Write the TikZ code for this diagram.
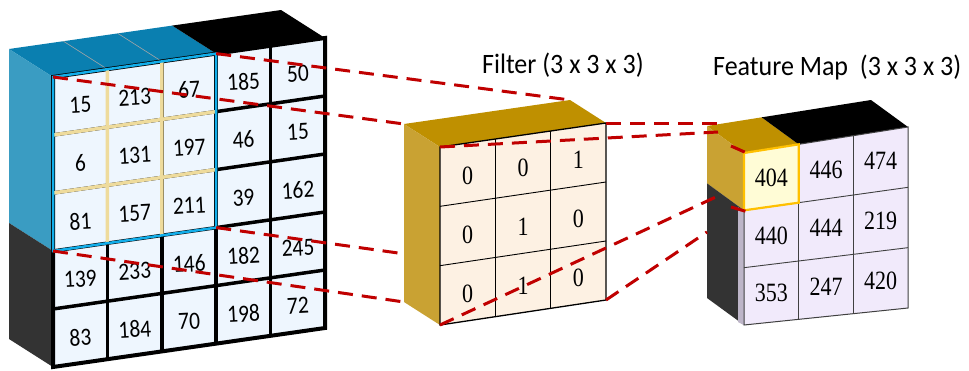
\documentclass[tikz,border=0pt]{standalone}
\usepackage{fontspec}
\setmainfont{Liberation Serif}
\newfontfamily\labelfont{Carlito}
\usetikzlibrary{calc}
\definecolor{inblue}{HTML}{0A7FB0}
\definecolor{inside}{HTML}{3A9CC2}
\definecolor{darkside}{HTML}{333333}
\definecolor{incell}{HTML}{EEF6FE}
\definecolor{hiline}{HTML}{EEDB9C}
\definecolor{hiborder}{HTML}{12AEEA}
\definecolor{goldtop}{HTML}{BF9000}
\definecolor{goldside}{HTML}{C9A233}
\definecolor{filtcell}{HTML}{FDF1E3}
\definecolor{fmcell}{HTML}{F1EAFB}
\definecolor{fmstrip}{HTML}{BDB5C8}
\definecolor{fmgrid}{HTML}{404040}
\definecolor{fmhi}{HTML}{FFFCD6}
\definecolor{fmhiborder}{HTML}{FFC000}
\definecolor{linkred}{HTML}{C00000}
% digits are set a little taller than wide
\newcommand{\tall}[2]{\scalebox{1}[#1]{#2}}
\tikzset{
  link/.style={linkred, line width=3pt, dash pattern=on 15pt off 9pt},
  innum/.style={font=\labelfont\fontsize{21.5}{24}\selectfont, inner sep=0pt, rotate=3},
  sernum/.style={font=\fontsize{22}{26}\selectfont, inner sep=0pt},
  heading/.style={font=\labelfont\fontsize{26}{30}\selectfont, inner sep=0pt, anchor=base west},
}
\begin{document}
\begin{tikzpicture}[x=1pt,y=-1pt]
\useasboundingbox[fill=white] (0,0) rectangle (969,370);

% ---- corner points of the three front faces ----
\coordinate (LTL) at (53,77);   \coordinate (LTR) at (325,38);
\coordinate (LBL) at (53,367);  \coordinate (LBR) at (325,328);
\coordinate (FTL) at (440,147); \coordinate (FTR) at (606,123);
\coordinate (FBL) at (440,325); \coordinate (FBR) at (606,300);
\coordinate (MTL) at (744,153); \coordinate (MTR) at (908,127);
\coordinate (MBL) at (744,325); \coordinate (MBR) at (908,308);

% grid points of the input volume (5 x 5)
\foreach \i in {0,...,5} \foreach \j in {0,...,5} {
  \pgfmathsetmacro\cu{\i/5} \pgfmathsetmacro\cv{\j/5}
  \coordinate (L-\i-\j) at ($ ($(LTL)!\cu!(LTR)$)!\cv!($(LBL)!\cu!(LBR)$) $);
}
% grid points of the filter and of the feature map (3 x 3)
\foreach \i in {0,...,3} \foreach \j in {0,...,3} {
  \pgfmathsetmacro\cu{\i/3} \pgfmathsetmacro\cv{\j/3}
  \coordinate (F-\i-\j) at ($ ($(FTL)!\cu!(FTR)$)!\cv!($(FBL)!\cu!(FBR)$) $);
  \coordinate (FK-\i-\j) at ($(F-\i-\j)+(-36,-23)$);
  \coordinate (M-\i-\j) at ($ ($(MTL)!\cu!(MTR)$)!\cv!($(MBL)!\cu!(MBR)$) $);
  \coordinate (MK-\i-\j) at ($(M-\i-\j)+(-37,-27)$);
}

% ---- input volume ----
\fill[inblue] (L-0-0) -- (L-3-0) -- ++(-44,-28) -- ($(L-0-0)+(-44,-28)$) -- cycle;
\fill[black] (L-3-0) -- (L-5-0) -- ++(-44,-28) -- ($(L-3-0)+(-44,-28)$) -- cycle;
\fill[inside] (L-0-0) -- (L-0-3) -- ++(-44,-28) -- ($(L-0-0)+(-44,-28)$) -- cycle;
\fill[darkside] (L-0-3) -- (L-0-5) -- ++(-44,-28) -- ($(L-0-3)+(-44,-28)$) -- cycle;
\draw[gray!70, line width=0.6pt] (L-1-0) -- ++(-44,-28) (L-2-0) -- ++(-44,-28);
\fill[incell] (L-0-0) -- (L-5-0) -- (L-5-5) -- (L-0-5) -- cycle;
\foreach \k in {1,...,4} {
  \draw[line width=3.5pt] (L-\k-0) -- (L-\k-5);
  \draw[line width=3.5pt] (L-0-\k) -- (L-5-\k);
}
\draw[line width=4pt, line join=miter] (L-0-0) -- (L-5-0) -- (L-5-5) -- (L-0-5) -- cycle;
\draw[hiline, line width=3.5pt] (L-1-0) -- (L-1-3) (L-2-0) -- (L-2-3)
  (L-0-1) -- (L-3-1) (L-0-2) -- (L-3-2);
\draw[hiborder, line width=2.5pt, line join=miter] (L-0-0) -- (L-3-0) -- (L-3-3) -- (L-0-3) -- cycle;

\foreach \row [count=\j from 0] in {{15,213,67,185,50},{6,131,197,46,15},{81,157,211,39,162},{139,233,146,182,245},{83,184,70,198,72}} {
  \foreach \val [count=\i from 0] in \row {
    \pgfmathsetmacro\cu{(\i+0.5)/5} \pgfmathsetmacro\cv{(\j+0.5)/5}
    \node[innum, yshift=-3pt] (l-\i-\j) at ($ ($(LTL)!\cu!(LTR)$)!\cv!($(LBL)!\cu!(LBR)$) $) {\tall{1.15}{\val}};
  }
}

% ---- receptive field to filter ----
\draw[link] (L-0-0) -- (FK-0-0);
\draw[link] (L-3-0) -- (FK-3-0);
\draw[link] (L-3-3) -- (FK-3-3);
\draw[link] (L-0-3) -- (FK-0-3);

% ---- filter ----
\fill[goldtop] (F-0-0) -- (F-3-0) -- (FK-3-0) -- (FK-0-0) -- cycle;
\fill[goldside] (F-0-0) -- (F-0-3) -- (FK-0-3) -- (FK-0-0) -- cycle;
\fill[filtcell] (F-0-0) -- (F-3-0) -- (F-3-3) -- (F-0-3) -- cycle;
\foreach \k in {1,2} {
  \draw[line width=0.9pt] (F-\k-0) -- (F-\k-3);
  \draw[line width=0.9pt] (F-0-\k) -- (F-3-\k);
}
\draw[line width=1.3pt] (F-0-0) -- (F-3-0) -- (F-3-3) -- (F-0-3) -- cycle;
\foreach \row [count=\j from 0] in {{0,0,1},{0,1,0},{0,1,0}} {
  \foreach \val [count=\i from 0] in \row {
    \pgfmathsetmacro\cu{(\i+0.5)/3} \pgfmathsetmacro\cv{(\j+0.5)/3}
    \node[sernum, yshift=-3pt] (f-\i-\j) at ($ ($(FTL)!\cu!(FTR)$)!\cv!($(FBL)!\cu!(FBR)$) $) {\tall{1.2}{\val}};
  }
}
\node[heading] (ftitle) at (482,73) {\tall{1.08}{Filter (3 x 3 x 3)}};

% ---- feature map ----
\fill[goldtop] (M-0-0) -- (M-1-0) -- (MK-1-0) -- (MK-0-0) -- cycle;
\fill[black] (M-1-0) -- (M-3-0) -- (MK-3-0) -- (MK-1-0) -- cycle;
\fill[goldside] (M-0-0) -- (M-0-1) -- (MK-0-1) -- (MK-0-0) -- cycle;
\fill[darkside] (M-0-1) -- (M-0-3) -- (MK-0-3) -- (MK-0-1) -- cycle;
\fill[fmstrip] (M-0-1) -- (M-0-3) -- ($(M-0-3)+(-6,-3)$) -- ($(M-0-1)+(-6,-3)$) -- cycle;
\fill[fmcell] (M-0-0) -- (M-3-0) -- (M-3-3) -- (M-0-3) -- cycle;
\foreach \k in {1,2} {
  \draw[fmgrid, line width=0.9pt] (M-\k-0) -- (M-\k-3);
  \draw[fmgrid, line width=0.9pt] (M-0-\k) -- (M-3-\k);
}
\draw[fmgrid, line width=1pt] (M-0-0) -- (M-3-0) -- (M-3-3) -- (M-0-3) -- cycle;
\filldraw[fill=fmhi, draw=fmhiborder, line width=2.2pt] (M-0-0) -- (M-1-0) -- (M-1-1) -- (M-0-1) -- cycle;
\foreach \row [count=\j from 0] in {{404,446,474},{440,444,219},{353,247,420}} {
  \foreach \val [count=\i from 0] in \row {
    \pgfmathsetmacro\cu{(\i+0.5)/3} \pgfmathsetmacro\cv{(\j+0.5)/3}
    \node[sernum] (m-\i-\j) at ($ ($(MTL)!\cu!(MTR)$)!\cv!($(MBL)!\cu!(MBR)$) $) {\tall{1.2}{\val}};
  }
}
\node[heading] (mtitle) at (713,75) {\tall{1.08}{Feature Map\ \ (3 x 3 x 3)}};

% ---- filter to feature map ----
\coordinate (e1) at (718,132); \coordinate (e2) at (731,146); \coordinate (e3) at (749,154);
\coordinate (f1) at (722,123);
\coordinate (g1) at (718,196); \coordinate (g2) at (731,207); \coordinate (g3) at (748,212);
\coordinate (h1) at (707,232);
\draw[link] (F-0-0) -- (e1) (e2) -- (e3);
\draw[link] (F-3-0) -- (f1);
\draw[link] (F-0-3) -- (g1) (g2) -- (g3);
\draw[link] (F-3-3) -- (h1);
\end{tikzpicture}
\end{document}
